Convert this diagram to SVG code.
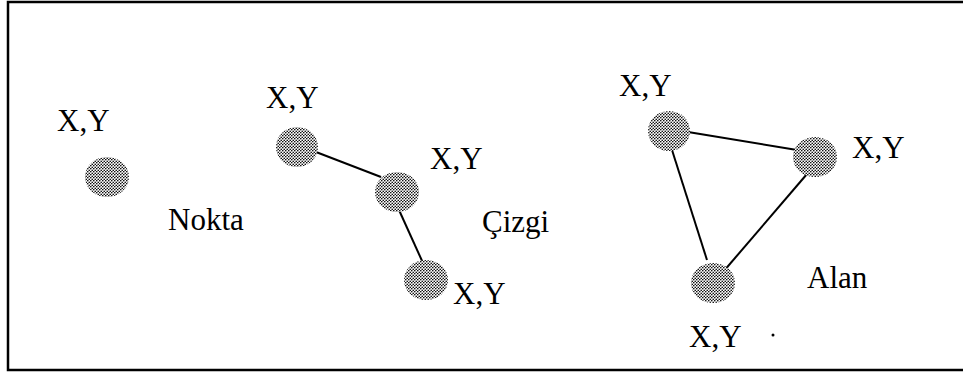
<svg xmlns="http://www.w3.org/2000/svg" width="963" height="375" viewBox="0 0 963 375">
<defs>
<pattern id="dots" width="3" height="3" patternUnits="userSpaceOnUse">
<rect width="3" height="3" fill="#ffffff"/>
<circle cx="0.75" cy="0.75" r="0.8" fill="#000"/>
<circle cx="2.25" cy="2.25" r="0.8" fill="#000"/>
</pattern>
</defs>
<style>
.pt{fill:url(#dots);stroke:none}
.edge{stroke:#000;stroke-width:2;fill:none}
.lbl{font-family:'Liberation Serif','Times New Roman',Times,serif;font-size:31px;fill:#000}
</style>
<rect x="8" y="2" width="962" height="368" fill="#fff" stroke="#000" stroke-width="2.5"/>
<g id="connectors">
<line class="edge" x1="316" y1="152" x2="381" y2="177"/>
<line class="edge" x1="399" y1="210" x2="423" y2="263"/>
<line class="edge" x1="688" y1="132" x2="797" y2="150"/>
<line class="edge" x1="672" y1="150" x2="707" y2="260"/>
<line class="edge" x1="807" y1="174" x2="723" y2="272"/>
</g>
<g id="nokta">
<ellipse class="pt" cx="107" cy="177" rx="22" ry="20"/>
<text class="lbl" x="57" y="131">X,Y</text>
<text class="lbl" x="168" y="230">Nokta</text>
</g>
<g id="cizgi">
<ellipse class="pt" cx="297" cy="147" rx="21" ry="20"/>
<ellipse class="pt" cx="397" cy="192" rx="22" ry="20"/>
<ellipse class="pt" cx="426" cy="280" rx="22" ry="20"/>
<text class="lbl" x="266" y="108">X,Y</text>
<text class="lbl" x="430" y="169">X,Y</text>
<text class="lbl" x="453" y="304">X,Y</text>
<text class="lbl" x="482" y="232">Çizgi</text>
</g>
<g id="alan">
<ellipse class="pt" cx="669" cy="131" rx="21" ry="20"/>
<ellipse class="pt" cx="815" cy="157" rx="22" ry="20"/>
<ellipse class="pt" cx="713" cy="283" rx="22" ry="20"/>
<text class="lbl" x="619" y="96">X,Y</text>
<text class="lbl" x="852" y="158">X,Y</text>
<text class="lbl" x="689" y="347">X,Y</text>
<text class="lbl" x="807" y="288">Alan</text>
<circle cx="773" cy="335" r="1.5" fill="#000"/>
</g>
</svg>
